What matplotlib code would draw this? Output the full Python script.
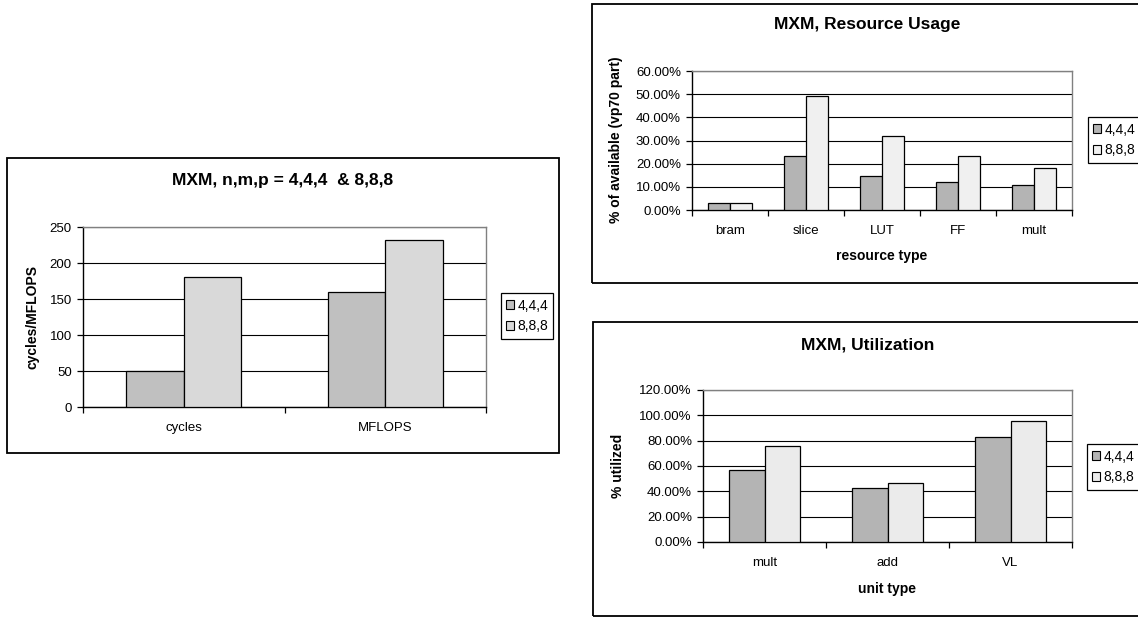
import matplotlib
matplotlib.use("Agg")
import numpy as np
from matplotlib import pyplot as plt
from matplotlib.patches import Rectangle, Patch
from matplotlib.ticker import FuncFormatter, MultipleLocator, FixedLocator, NullFormatter

plt.rcParams['font.family'] = ['Liberation Sans', 'DejaVu Sans']

W, H = 1138, 617

series = ['4,4,4', '8,8,8']

# cycles / MFLOPS
perf_cats = ['cycles', 'MFLOPS']
perf_444 = [50, 160]
perf_888 = [180, 232]

# resource usage, fraction of the vp70 part
res_cats = ['bram', 'slice', 'LUT', 'FF', 'mult']
res_444 = [0.03, 0.232, 0.148, 0.122, 0.109]
res_888 = [0.03, 0.494, 0.32, 0.232, 0.183]

# unit utilization
util_cats = ['mult', 'add', 'VL']
util_444 = [0.567, 0.425, 0.827]
util_888 = [0.756, 0.462, 0.958]


def px_rect(x0, y0, x1, y1):
    return [x0 / W, 1 - y1 / H, (x1 - x0) / W, (y1 - y0) / H]


def frame(fig, x0, y0, x1, y1):
    fig.add_artist(Rectangle((x0 / W, 1 - y1 / H), (x1 - x0) / W, (y1 - y0) / H,
                             transform=fig.transFigure, fill=False,
                             ec='black', lw=1.3))


def ftext(fig, x, y, s, **kw):
    fig.text(x / W, 1 - y / H, s, ha='center', va='center', **kw)


def bar_chart(fig, box, cats, a, b, colors, ymax, step, fmt, leg_xy):
    ax = fig.add_axes(px_rect(*box))
    n = len(cats)
    x = np.arange(n)
    w = 1 / 3.5
    ax.bar(x - w / 2, a, w, color=colors[0], edgecolor='black', lw=0.9, zorder=3)
    ax.bar(x + w / 2, b, w, color=colors[1], edgecolor='black', lw=0.9, zorder=3)

    ax.set_xlim(-0.5, n - 0.5)
    ax.set_ylim(0, ymax)
    ax.yaxis.set_major_locator(MultipleLocator(step))
    ax.yaxis.set_major_formatter(FuncFormatter(fmt))
    ax.yaxis.grid(True, color='black', lw=0.8, zorder=0)
    ax.set_axisbelow(True)

    # category boundaries get the ticks, names sit in between
    ax.xaxis.set_major_locator(FixedLocator(np.arange(n + 1) - 0.5))
    ax.xaxis.set_major_formatter(NullFormatter())
    ax.xaxis.set_minor_locator(FixedLocator(x))
    ax.set_xticklabels(cats, minor=True)
    ax.tick_params(axis='x', which='minor', length=0, pad=11, labelsize=9.5)
    ax.tick_params(axis='x', which='major', direction='out', length=4, width=0.9)
    ax.tick_params(axis='y', direction='out', length=4, width=0.9, labelsize=9.5, pad=4)

    for side in ['top', 'right']:
        ax.spines[side].set_color('#808080')
        ax.spines[side].set_linewidth(1.0)
    for side in ['left', 'bottom']:
        ax.spines[side].set_color('black')
        ax.spines[side].set_linewidth(1.0)

    handles = [Patch(facecolor=colors[i], edgecolor='black', lw=0.8, label=series[i])
               for i in range(2)]
    leg = ax.legend(handles=handles, loc='center',
                    bbox_to_anchor=(leg_xy[0] / W, 1 - leg_xy[1] / H),
                    bbox_transform=fig.transFigure, fancybox=False,
                    edgecolor='black', framealpha=1, fontsize=10,
                    handlelength=0.6, handleheight=0.6, handletextpad=0.2,
                    borderpad=0.4, labelspacing=0.5, borderaxespad=0)
    leg.get_frame().set_linewidth(0.9)
    return ax


def num_fmt(v, _):
    return f'{v:.0f}'


def pct_fmt(v, _):
    return f'{v * 100:.2f}%'


fig = plt.figure(figsize=(W / 100, H / 100), dpi=100)

# left chart
frame(fig, 7, 158, 559, 453)
bar_chart(fig, (83, 227, 486, 407), perf_cats, perf_444, perf_888,
          ['#c0c0c0', '#d9d9d9'], 250, 50, num_fmt, (527, 316))
ftext(fig, 283, 181, 'MXM, n,m,p = 4,4,4  & 8,8,8', fontsize=12.5, fontweight='bold')
ftext(fig, 33, 317, 'cycles/MFLOPS', fontsize=10, fontweight='bold', rotation=90)

# resource usage
frame(fig, 592, 4, 1145, 283)
bar_chart(fig, (692, 71, 1072, 210), res_cats, res_444, res_888,
          ['#b4b4b4', '#f0f0f0'], 0.6, 0.1, pct_fmt, (1114, 140))
ftext(fig, 867, 25, 'MXM, Resource Usage', fontsize=12.5, fontweight='bold')
ftext(fig, 616, 140, '% of available (vp70 part)', fontsize=10, fontweight='bold', rotation=90)
ftext(fig, 882, 256, 'resource type', fontsize=10, fontweight='bold')

# utilization
frame(fig, 593, 322, 1145, 616)
bar_chart(fig, (703, 390, 1072, 542), util_cats, util_444, util_888,
          ['#b4b4b4', '#ebebeb'], 1.2, 0.2, pct_fmt, (1113, 467))
ftext(fig, 868, 345, 'MXM, Utilization', fontsize=12.5, fontweight='bold')
ftext(fig, 618, 466, '% utilized', fontsize=10, fontweight='bold', rotation=90)
ftext(fig, 887, 589, 'unit type', fontsize=10, fontweight='bold')

fig.savefig('out.png', dpi=100)
